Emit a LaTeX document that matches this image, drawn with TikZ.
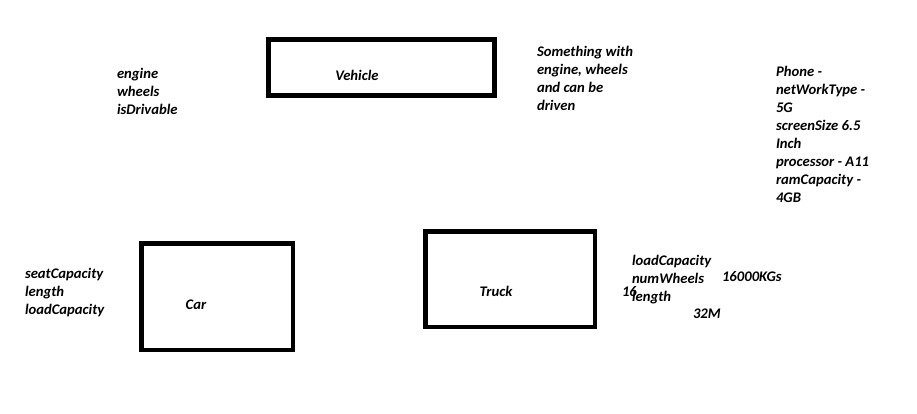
\documentclass[tikz,border=0pt]{standalone}
\usepackage{fontspec}
\setmainfont{Carlito}
\begin{document}
\begin{tikzpicture}[x=1pt,y=-1pt,
  box/.style={draw=black,line width=4.5pt,fill=none,outer sep=0pt,inner sep=0pt,anchor=north west},
  txt/.style={inner sep=0pt,outer sep=0pt,font=\fontsize{14.67}{18}\selectfont\bfseries\itshape,align=left,anchor=base west}]
\useasboundingbox (0,0) rectangle (917,413);
% boxes
\node[box,minimum width=226pt,minimum height=56pt] (vehicle) at (268.25,39.25) {};
\node[box,minimum width=151.5pt,minimum height=106.5pt] (car) at (141.25,243.25) {};
\node[box,minimum width=169.5pt,minimum height=95.5pt] (truck) at (425.25,231.25) {};
% labels
\node[txt,anchor=base] (vl) at (357,80) {Vehicle};
\node[txt,anchor=base] (cl) at (196,309) {Car};
\node[txt,anchor=base] (tl) at (496,296) {Truck};
% attribute lists (base = baseline of last line)
\node[txt] (vattr) at (117,114) {engine\\wheels\\isDrivable};
\node[txt] (desc) at (537,110) {Something with\\engine, wheels\\and can be\\driven};
\node[txt] (phone) at (776,202) {Phone -\\netWorkType -\\5G\\screenSize 6.5\\Inch\\processor - A11\\ramCapacity -\\4GB};
\node[txt] (cattr) at (25,314) {seatCapacity\\length\\loadCapacity};
\node[txt] (tattr) at (632,301) {loadCapacity\\numWheels\\length};
\node[txt] (kgs) at (722,281) {16000KGs};
\node[txt] (sixteen) at (622,296) {16};
\node[txt] (len) at (693,318) {32M};
\end{tikzpicture}
\end{document}
